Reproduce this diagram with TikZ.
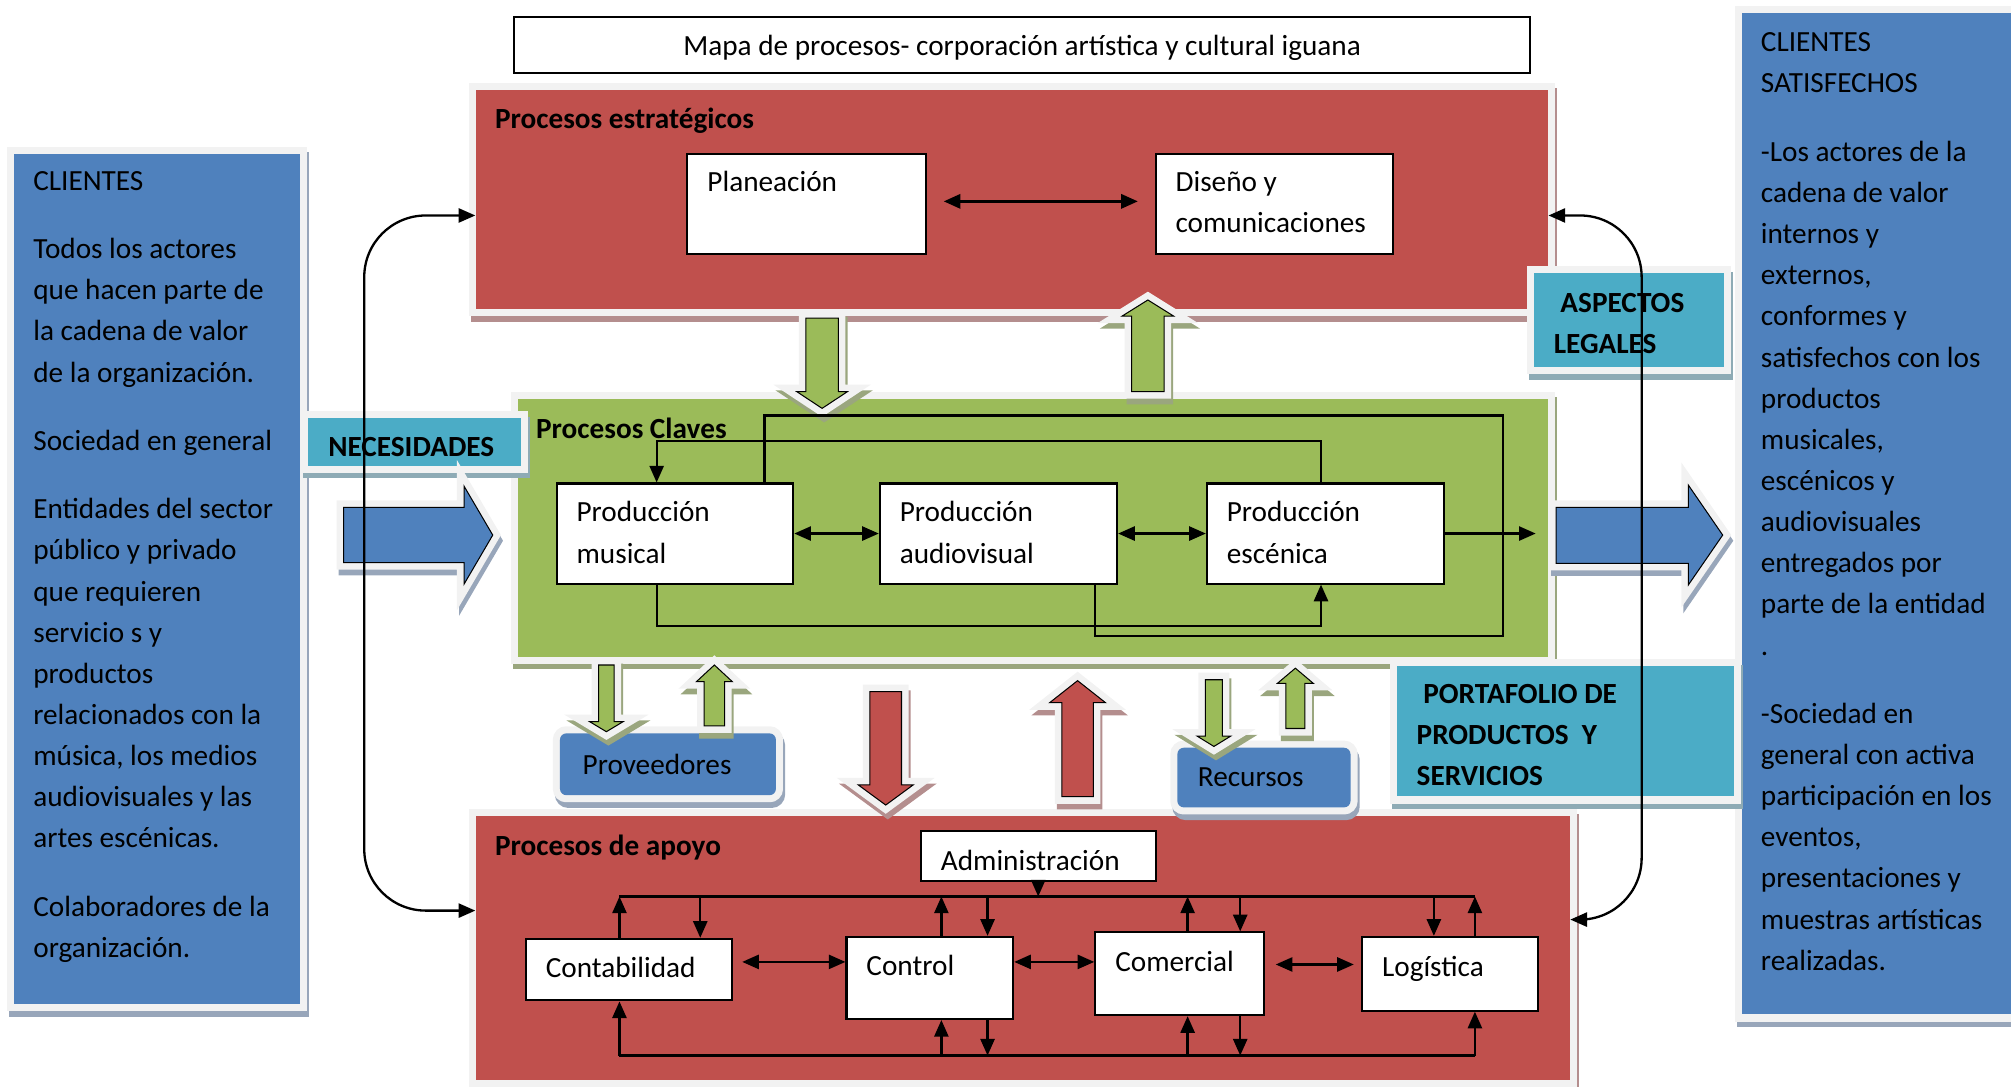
\documentclass[tikz,border=0pt]{standalone}
\usepackage{fontspec}
\setmainfont{Carlito}
\usetikzlibrary{positioning,arrows.meta,fit}

\definecolor{rojo}{HTML}{C0504D}
\definecolor{verde}{HTML}{9BBB59}
\definecolor{azul}{HTML}{4F81BD}
\definecolor{turquesa}{HTML}{4BACC6}
\definecolor{marco}{HTML}{F2F2F2}
\definecolor{sombrarojo}{HTML}{B48E8E}
\definecolor{sombraverde}{HTML}{9AA67E}
\definecolor{sombraazul}{HTML}{98A6BA}
\definecolor{sombraturq}{HTML}{8EABB5}

\tikzset{
  sombreado/.style 2 args={fill=#1, inner sep=0pt,
    preaction={draw=#2, fill=#2, line width=5.5pt,
      transform canvas={shift={(0.8pt,-2.2pt)}}},
    preaction={draw=marco, line width=5.5pt}},
  caja/.style={draw, fill=white, line width=0.8pt, inner sep=0pt},
  texto/.style={font=\fontsize{11.4pt}{16.04pt}\selectfont, align=left, inner sep=0pt},
  negrita/.style={texto, font=\fontsize{11.4pt}{16pt}\selectfont\bfseries},
  linea/.style={line width=0.9pt},
  flecha/.style={linea, -{Triangle[length=6.5pt,width=5.5pt]}},
  dflecha/.style={linea, {Triangle[length=6.5pt,width=5.5pt]}-{Triangle[length=6.5pt,width=5.5pt]}},
}

\begin{document}
\begin{tikzpicture}[x=0.5pt, y=-0.5pt]
        \useasboundingbox (0,0) rectangle (1568,847);

        % Titulo
        \node[caja, fit={(401,13) (1193,57)}] (titulo) {};
        \node[texto] (t-titulo) at ([shift={(0,2.5)}]titulo.center) {Mapa de procesos- corporación artística y cultural iguana};

        % Clientes
        \node[sombreado={azul}{sombraazul}, fit={(11,120) (234,783)}] (clientes) {};
        \node[texto, anchor=north west] (t-clientes) at ([shift={(15,13.6)}]clientes.north west)
          {CLIENTES\\[10.6pt]
           Todos los actores\\que hacen parte de\\la cadena de valor\\de la organización.\\[10.6pt]
           Sociedad en general\\[10.6pt]
           Entidades del sector\\público y privado\\que requieren\\servicio s y\\productos\\relacionados con la\\música, los medios\\audiovisuales y las\\artes escénicas.\\[10.6pt]
           Colaboradores de la\\organización.};

        \node[sombreado={azul}{sombraazul}, fit={(1358,10) (1590,791)}] (satisfechos) {};
        \node[texto, anchor=north west] (t-satisfechos) at ([shift={(15,15.6)}]satisfechos.north west)
          {CLIENTES\\SATISFECHOS\\[10.6pt]
           -Los actores de la\\cadena de valor\\internos y\\externos,\\conformes y\\satisfechos con los\\productos\\musicales,\\escénicos y\\audiovisuales\\entregados por\\parte de la entidad\\.\\[10.6pt]
           -Sociedad en\\general con activa\\participación en los\\eventos,\\presentaciones y\\muestras artísticas\\realizadas.};

        % Procesos estrategicos
        \node[sombreado={rojo}{sombrarojo}, fit={(371,70) (1207,241)}] (estrategicos) {};
        \node[negrita, anchor=north west] (t-estrategicos) at ([shift={(15,14)}]estrategicos.north west) {Procesos estratégicos};
        \node[caja, fit={(536,120) (722,198)}] (planeacion) {};
        \node[caja, fit={(901,120) (1086,198)}] (diseno) {};

        % Procesos claves
        \node[sombreado={verde}{sombraverde}, fit={(404,311) (1207,512)}] (claves) {};
        \node[negrita, anchor=north west] (t-claves) at ([shift={(14,15)}]claves.north west) {Procesos Claves};
        \node[caja, fit={(434,377) (618.5,455)}] (musical) {};
        \node[caja, fit={(686,377) (871,455)}] (audiovisual) {};
        \node[caja, fit={(941,377) (1126,455)}] (escenica) {};

        % Procesos de apoyo
        \node[sombreado={rojo}{sombrarojo}, fit={(371,636) (1224,842)}] (apoyo) {};
        \node[negrita, anchor=north west] (t-apoyo) at ([shift={(15,15)}]apoyo.north west) {Procesos de apoyo};
        \node[caja, fit={(718,648) (901,687)}] (administracion) {};
        \node[caja, fit={(410,732) (570.5,780)}] (contabilidad) {};
        \node[caja, fit={(660,730.5) (790,794.5)}] (control) {};
        \node[caja, fit={(854,727) (985.5,791.5)}] (comercial) {};
        \node[caja, fit={(1062,730.5) (1199,788)}] (logistica) {};

        % Entradas y salidas
        \node[sombreado={turquesa}{sombraturq}, fit={(240,326) (406,363)}] (necesidades) {};
        \node[negrita, anchor=north west] (t-necesidades) at ([shift={(16,14.6)}]necesidades.north west) {NECESIDADES};
        \node[sombreado={turquesa}{sombraturq}, fit={(1196,213) (1344,286)}] (aspectos) {};
        \node[negrita, anchor=north west] (t-aspectos) at ([shift={(15.5,15.5)}]aspectos.north west) {\hspace*{2.6pt}ASPECTOS\\LEGALES};
        \node[sombreado={turquesa}{sombraturq}, fit={(1089,519.5) (1352,621)}] (portafolio) {};
        \node[negrita, anchor=north west] (t-portafolio) at ([shift={(15.6,14)}]portafolio.north west) {\hspace*{2.6pt}PORTAFOLIO DE\\PRODUCTOS\ \ Y\\SERVICIOS};
        \node[sombreado={azul}{sombraazul}, rounded corners=2.5pt, fit={(436.6,571.8) (605,620)}] (proveedores) {};
        \node[texto, anchor=west] (t-proveedores) at ([shift={(17.7,0)}]proveedores.west) {Proveedores};
        \node[sombreado={azul}{sombraazul}, rounded corners=2.5pt, fit={(918,583) (1053,629.5)}] (recursos) {};
        \node[texto, anchor=west] (t-recursos) at ([shift={(16,0)}]recursos.west) {Recursos};

        % Flechas de bloque
        \draw[sombreado={azul}{sombraazul}] (268,395.6) -- (361.8,395.6) -- (361.8,379) -- (384.2,417.2)
          -- (361.8,455.5) -- (361.8,438.7) -- (268,438.7) -- cycle;
        \draw[sombreado={azul}{sombraazul}] (1213.3,395.6) -- (1316.4,395.6) -- (1316.4,378.2) -- (1343.2,417.2)
          -- (1316.4,456.1) -- (1316.4,439.2) -- (1213.3,439.2) -- cycle;
        \foreach \cx/\ya/\yb/\yc/\w/\h/\col/\som in {
            641/248/305.4/318.4/12.7/19.7/verde/sombraverde,
            895/305.4/246.4/233.9/12.6/20/verde/sombraverde,
            472.8/518.5/562.7/570.5/6/13/verde/sombraverde,
            557/566/531.5/518.5/8/14/verde/sombraverde,
            690.6/539.3/612/627.7/12.3/21.4/rojo/sombrarojo,
            840.2/621.2/547.9/530.7/12.3/21.8/rojo/sombrarojo,
            946.5/530/574/582/6.6/13/verde/sombraverde,
            1010/568/532.8/521/7.4/14/verde/sombraverde}
          \draw[sombreado={\col}{\som}] (\cx-\w,\ya) -- (\cx+\w,\ya) -- (\cx+\w,\yb) -- (\cx+\h,\yb)
            -- (\cx,\yc) -- (\cx-\h,\yb) -- (\cx-\w,\yb) -- cycle;

        % Textos de las cajas
        \node[texto, anchor=north west] (t-planeacion) at ([shift={(16,14)}]planeacion.north west) {Planeación};
        \node[texto, anchor=north west] (t-diseno) at ([shift={(16,14)}]diseno.north west) {Diseño y\\comunicaciones};
        \node[texto, anchor=north west] (t-musical) at ([shift={(16,14.5)}]musical.north west) {Producción\\musical};
        \node[texto, anchor=north west] (t-audiovisual) at ([shift={(16,14.5)}]audiovisual.north west) {Producción\\audiovisual};
        \node[texto, anchor=north west] (t-escenica) at ([shift={(16,14.5)}]escenica.north west) {Producción\\escénica};
        \node[texto, anchor=north west] (t-administracion) at ([shift={(16,15.5)}]administracion.north west) {Administración};
        \node[texto, anchor=north west] (t-contabilidad) at ([shift={(16,14.5)}]contabilidad.north west) {Contabilidad};
        \node[texto, anchor=north west] (t-control) at ([shift={(16,14.8)}]control.north west) {Control};
        \node[texto, anchor=north west] (t-comercial) at ([shift={(16,15.3)}]comercial.north west) {Comercial};
        \node[texto, anchor=north west] (t-logistica) at ([shift={(16,15.6)}]logistica.north west) {Logística};

        % Conexiones estrategicos y claves
        \draw[dflecha, line width=1.1pt, shorten <=6.5pt, shorten >=6.5pt] (planeacion.east |- 0,157) -- (diseno.west |- 0,157);
        \draw[dflecha] (musical) -- (audiovisual);
        \draw[dflecha] (audiovisual) -- (escenica);
        \draw[flecha, shorten >=5pt] (escenica.east) -- (escenica.east -| claves.east);
        \draw[linea] (musical.north -| 596,0) |- (1172,324) |- (854,496) -- (audiovisual.south -| 854,0);
        \draw[flecha] (escenica.north -| 1030,0) |- (512,344) -- (musical.north -| 512,0);
        \draw[flecha] (musical.south -| 512,0) |- (1030,488) -- (escenica.south -| 1030,0);

        % Conexiones de apoyo
        \coordinate (bsup-i) at (483,699);
        \coordinate (bsup-d) at (1150,699);
        \coordinate (binf-i) at (483,823);
        \coordinate (binf-d) at (1150,823);
        \draw[linea] (bsup-i) -- (bsup-d);
        \draw[linea] (binf-i) -- (binf-d);
        \draw[flecha] (administracion.south) -- (administracion.south |- bsup-i);
        \foreach \n/\xa/\xb in {contabilidad/483/546, control/734/770, comercial/926/967, logistica/1150/1118}{
          \draw[flecha] (\n.north -| \xa,0) -- (bsup-i -| \xa,0);
          \draw[flecha] (bsup-i -| \xb,0) -- (\n.north -| \xb,0);
        }
        \foreach \n/\xa in {contabilidad/483, control/734, comercial/926, logistica/1150}
          \draw[flecha] (binf-i -| \xa,0) -- (\n.south -| \xa,0);
        \foreach \n/\xb in {control/770, comercial/967}
          \draw[flecha] (\n.south -| \xb,0) -- (binf-i -| \xb,0);
        \draw[dflecha, shorten <=3.7pt] (contabilidad.east |- 0,750) -- (control.west |- 0,750);
        \draw[dflecha] (control.east |- 0,750) -- (comercial.west |- 0,750);
        \draw[dflecha, shorten <=4.2pt, shorten >=2.8pt] (comercial.east |- 0,752) -- (logistica.west |- 0,752);

        % Retroalimentacion
        \draw[dflecha, rounded corners=24pt] (estrategicos.west |- 0,168) -| (284,710) -- (apoyo.west |- 0,710);
        \draw[dflecha, rounded corners=24pt] (estrategicos.east |- 0,168) -| (1280,717) -- (apoyo.east |- 0,717);
\end{tikzpicture}
\end{document}
